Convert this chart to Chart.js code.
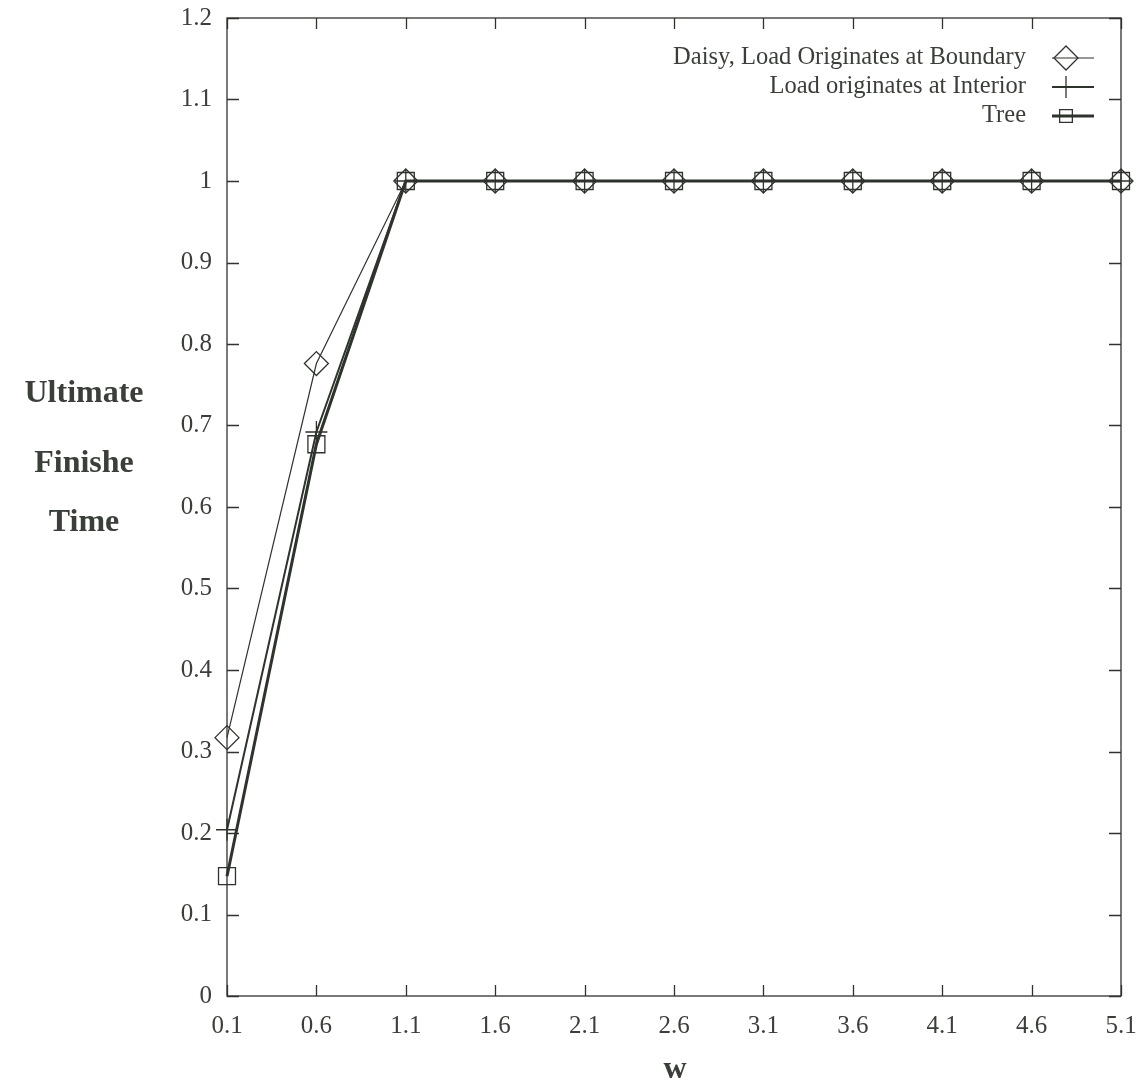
<!DOCTYPE html>
<html>
<head>
<meta charset="utf-8">
<title>Ultimate Finish Time vs w</title>
<script src="https://cdn.jsdelivr.net/npm/chart.js@4"></script>
<style>
  html, body { margin: 0; padding: 0; background: #fff; }
  #wrap { width: 1146px; height: 1087px; position: relative; }
</style>
</head>
<body>
<div id="wrap"><canvas id="myChart"></canvas></div>
<script>
// w values along the x axis
const wLabels = ["0.1", "0.6", "1.1", "1.6", "2.1", "2.6", "3.1", "3.6", "4.1", "4.6", "5.1"];
// ultimate finish time for each case
const daisyBoundary = [0.317, 0.776, 1, 1, 1, 1, 1, 1, 1, 1, 1];
const loadInterior = [0.204, 0.692, 1, 1, 1, 1, 1, 1, 1, 1, 1];
const treeTimes = [0.147, 0.677, 1, 1, 1, 1, 1, 1, 1, 1, 1];
const yTickValues = [0, 0.1, 0.2, 0.3, 0.4, 0.5, 0.6, 0.7, 0.8, 0.9, 1, 1.1, 1.2];
const yTitleLines = ["Ultimate", "Finishe", "Time"];

const ink = "#2e332e";
const textInk = "#3a3f3a";
const serif = "'Liberation Serif', 'DejaVu Serif', serif";

const seriesList = [
  { label: "Daisy, Load Originates at Boundary", data: daisyBoundary, style: "rectRot", radius: 12, width: 1.2 },
  { label: "Load originates at Interior", data: loadInterior, style: "cross", radius: 11, width: 2 },
  { label: "Tree", data: treeTimes, style: "rect", radius: 12, width: 3 },
];

// small marker drawer for the legend samples
function drawMarker(ctx, style, r, x, y) {
  ctx.beginPath();
  if (style === "rectRot") {
    ctx.moveTo(x - r, y);
    ctx.lineTo(x, y - r);
    ctx.lineTo(x + r, y);
    ctx.lineTo(x, y + r);
    ctx.closePath();
  } else if (style === "cross") {
    ctx.moveTo(x - r, y);
    ctx.lineTo(x + r, y);
    ctx.moveTo(x, y - r);
    ctx.lineTo(x, y + r);
  } else {
    const h = r * Math.SQRT1_2;
    ctx.rect(x - h, y - h, 2 * h, 2 * h);
  }
  ctx.stroke();
}

// frame, inward ticks, legend and axis titles drawn by hand (gnuplot look)
const framePlugin = {
  id: "framePlugin",
  afterDraw(chart) {
    const ctx = chart.ctx;
    const area = chart.chartArea;
    const xs = chart.scales.x;
    const ys = chart.scales.y;
    ctx.save();
    ctx.strokeStyle = ink;
    ctx.lineWidth = 1.3;
    ctx.strokeRect(area.left, area.top, area.right - area.left, area.bottom - area.top);

    ctx.beginPath();
    yTickValues.forEach((v) => {
      const py = Math.round(ys.getPixelForValue(v)) + 0.5;
      ctx.moveTo(area.left, py);
      ctx.lineTo(area.left + 12, py);
      ctx.moveTo(area.right, py);
      ctx.lineTo(area.right - 12, py);
    });
    wLabels.forEach((l, i) => {
      const px = Math.round(xs.getPixelForValue(i)) + 0.5;
      ctx.moveTo(px, area.bottom);
      ctx.lineTo(px, area.bottom - 11);
      ctx.moveTo(px, area.top);
      ctx.lineTo(px, area.top + 11);
    });
    ctx.stroke();

    // legend, text right-aligned with sample line on the right
    ctx.font = "24.5px " + serif;
    ctx.fillStyle = textInk;
    ctx.textAlign = "right";
    ctx.textBaseline = "middle";
    seriesList.forEach((s, i) => {
      const y = 58 + i * 29;
      ctx.fillText(s.label, 1026, y);
      ctx.strokeStyle = ink;
      ctx.lineWidth = s.width;
      ctx.beginPath();
      ctx.moveTo(1052, y);
      ctx.lineTo(1094, y);
      ctx.stroke();
      ctx.lineWidth = 1.3;
      drawMarker(ctx, s.style, i === 2 ? 9 : s.radius, 1066, y);
    });

    // axis titles
    ctx.font = "bold 32px " + serif;
    ctx.textAlign = "center";
    yTitleLines.forEach((t, i) => {
      ctx.fillText(t, 84, [394, 464, 523][i]);
    });
    ctx.fillText("w", 675, 1070);
    ctx.restore();
  },
};

const ctx = document.getElementById("myChart").getContext("2d");
new Chart(ctx, {
  type: "line",
  data: {
    labels: wLabels,
    datasets: seriesList.map((s) => ({
      label: s.label,
      data: s.data,
      borderColor: ink,
      borderWidth: s.width,
      pointStyle: s.style,
      pointRadius: s.radius,
      pointBorderWidth: 1.3,
      pointBorderColor: ink,
      pointBackgroundColor: "rgba(0,0,0,0)",
      tension: 0,
      fill: false,
      clip: false,
    })),
  },
  plugins: [framePlugin],
  options: {
    responsive: true,
    maintainAspectRatio: false,
    animation: false,
    layout: { autoPadding: false, padding: { top: 18, right: 25, left: 0, bottom: 0 } },
    plugins: {
      legend: { display: false },
      tooltip: { enabled: false },
    },
    scales: {
      x: {
        type: "category",
        offset: false,
        grid: { display: false },
        border: { display: false },
        ticks: {
          color: textInk,
          font: { family: serif, size: 25 },
          padding: 7,
          maxRotation: 0,
          autoSkip: false,
        },
        afterFit(scale) {
          scale.height = 91;
          scale.paddingLeft = 0;
          scale.paddingRight = 0;
        },
      },
      y: {
        min: 0,
        max: 1.2,
        grid: { display: false },
        border: { display: false },
        afterBuildTicks(scale) {
          scale.ticks = yTickValues.map((v) => ({ value: v }));
        },
        ticks: {
          color: textInk,
          font: { family: serif, size: 25 },
          padding: 7,
          callback: (v) => String(parseFloat(Number(v).toFixed(1))),
        },
        afterFit(scale) {
          scale.width = 227;
          scale.paddingTop = 0;
          scale.paddingBottom = 0;
        },
      },
    },
  },
});
</script>
</body>
</html>
